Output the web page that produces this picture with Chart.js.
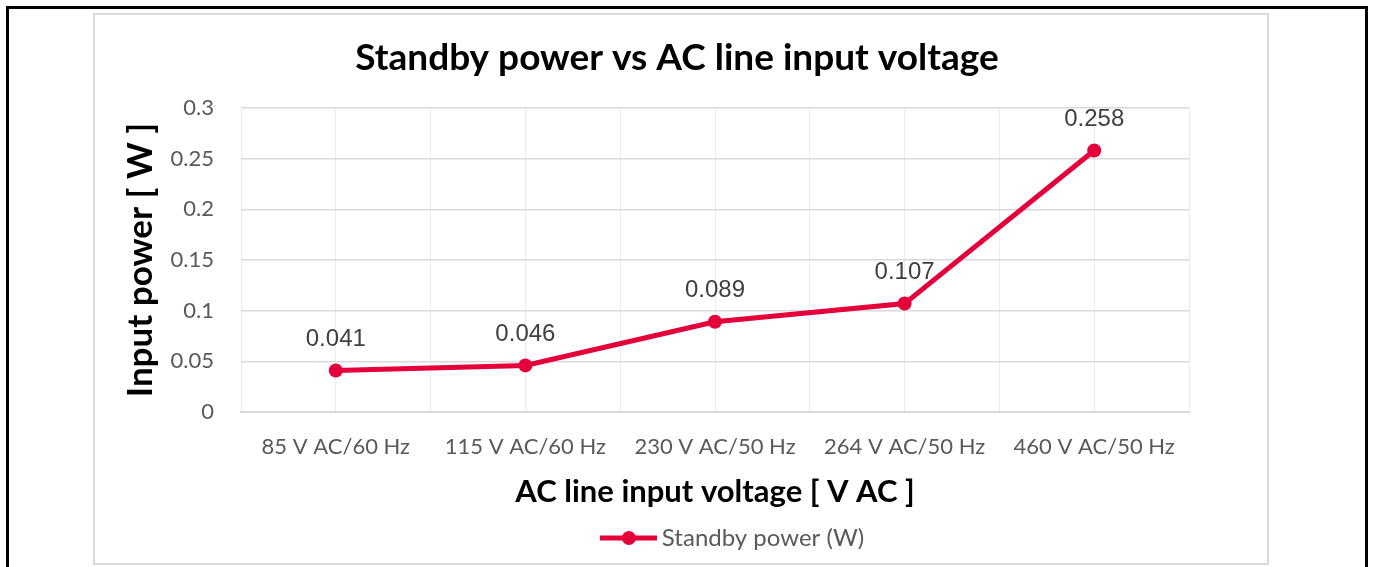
<!DOCTYPE html>
<html>
<head>
<meta charset="utf-8">
<script src="https://cdn.jsdelivr.net/npm/chart.js@4.4.1/dist/chart.umd.min.js"></script>
<style>
  html, body { margin: 0; padding: 0; background: #fff; }
  body { width: 1373px; height: 567px; position: relative; overflow: hidden; }
  .moldura { position: absolute; left: 6px; top: 6px; width: 1362px; height: 600px; border: 3px solid #000; box-sizing: border-box; }
  .quadro { position: absolute; left: 93px; top: 13px; width: 1176px; height: 552px; border: 2px solid #d9d9d9; box-sizing: border-box; }
  #grafico { position: absolute; left: 0; top: 0; }
</style>
</head>
<body>
<div class="moldura"></div>
<div class="quadro"></div>
<canvas id="grafico" width="1373" height="567"></canvas>
<script>
// dados
const categorias = ['85 V AC/60 Hz', '115 V AC/60 Hz', '230 V AC/50 Hz', '264 V AC/50 Hz', '460 V AC/50 Hz'];
const potenciaStandby = [0.041, 0.046, 0.089, 0.107, 0.258];
const ticksY = [0, 0.05, 0.1, 0.15, 0.2, 0.25, 0.3];

const VERMELHO = '#e4003a';
const CINZA_TEXTO = '#595959';

Chart.defaults.font.family = 'Lato';

// icone da legenda: linha com bolinha (a parte da esquerda fica transparente
// pra empurrar o desenho um pouco pra direita, igual ao excel)
const iconeLegenda = document.createElement('canvas');
iconeLegenda.width = 98;
iconeLegenda.height = 16;
const ctxIcone = iconeLegenda.getContext('2d');
ctxIcone.strokeStyle = VERMELHO;
ctxIcone.lineWidth = 5;
ctxIcone.beginPath();
ctxIcone.moveTo(41, 8);
ctxIcone.lineTo(98, 8);
ctxIcone.stroke();
ctxIcone.fillStyle = VERMELHO;
ctxIcone.beginPath();
ctxIcone.arc(70, 8, 7, 0, Math.PI * 2);
ctxIcone.fill();

// rotulos com o valor em cima de cada ponto
const rotulosDados = {
    id: 'rotulosDados',
    afterDatasetsDraw(chart) {
        const ctx = chart.ctx;
        const meta = chart.getDatasetMeta(0);
        ctx.save();
        ctx.font = '24px "Liberation Sans", Arial, sans-serif';
        ctx.fillStyle = '#404040';
        ctx.textAlign = 'center';
        ctx.textBaseline = 'middle';
        meta.data.forEach((ponto, i) => {
            ctx.fillText(String(potenciaStandby[i]), ponto.x, ponto.y - 31);
        });
        ctx.restore();
    }
};

new Chart(document.getElementById('grafico'), {
    type: 'line',
    data: {
        labels: categorias,
        datasets: [{
            label: 'Standby power (W)',
            data: potenciaStandby,
            borderColor: VERMELHO,
            backgroundColor: VERMELHO,
            borderWidth: 5,
            pointRadius: 7,
            pointBorderWidth: 0,
            pointBackgroundColor: VERMELHO,
            tension: 0
        }]
    },
    options: {
        responsive: false,
        animation: false,
        layout: { padding: { top: 36, left: 165, right: 184, bottom: 7 } },
        plugins: {
            title: {
                display: true,
                text: 'Standby power vs AC line input voltage',
                color: '#000',
                font: { size: 37, weight: 'bold' },
                padding: { top: 0, bottom: 27.6 }
            },
            legend: {
                position: 'bottom',
                fullSize: false,
                labels: {
                    usePointStyle: true,
                    pointStyle: iconeLegenda,
                    pointStyleWidth: 84,
                    padding: 10,
                    color: CINZA_TEXTO,
                    font: { size: 24 }
                }
            },
            tooltip: { enabled: false }
        },
        scales: {
            x: {
                offset: true,
                grid: { offset: false, color: '#ebebeb', lineWidth: 1, drawTicks: false },
                border: { display: true, color: '#d9d9d9', width: 2 },
                ticks: { color: CINZA_TEXTO, padding: 22, font: { size: 22 } },
                title: {
                    display: true,
                    text: 'AC line input voltage [ V AC ]',
                    color: '#000',
                    font: { size: 31, weight: 'bold' },
                    padding: { top: 0, bottom: 5 }
                },
                afterFit: (eixo) => { eixo.height = 104; }
            },
            // eixo extra so pras linhas verticais entre as categorias
            x2: {
                type: 'category',
                position: 'bottom',
                offset: true,
                grid: { offset: true, color: '#ebebeb', lineWidth: 1, drawTicks: false },
                border: { display: false },
                ticks: { display: false }
            },
            y: {
                min: 0,
                max: 0.3,
                afterBuildTicks: (eixo) => { eixo.ticks = ticksY.map(v => ({ value: v })); },
                grid: { color: '#d9d9d9', lineWidth: 1.5, drawTicks: false },
                border: { display: false },
                ticks: { color: CINZA_TEXTO, padding: 27, font: { size: 22 }, callback: (v) => String(v) },
                title: {
                    display: true,
                    text: 'Input power [ W ]',
                    color: '#000',
                    font: { size: 35, weight: 'bold' },
                    padding: { top: -45, bottom: 0 }
                },
                afterFit: (eixo) => { eixo.width = 76; }
            }
        }
    },
    plugins: [rotulosDados]
});
</script>
</body>
</html>
